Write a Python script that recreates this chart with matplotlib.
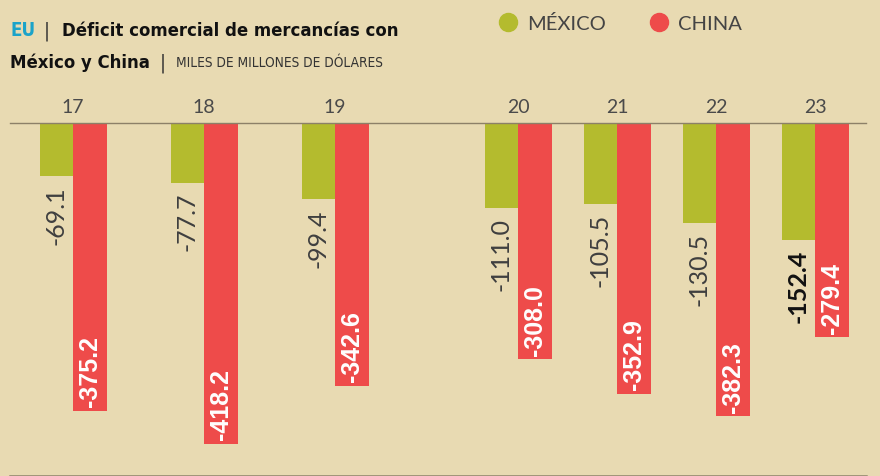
import numpy as np
import matplotlib.pyplot as plt
from matplotlib.lines import Line2D

# datos: déficit comercial de EU (miles de millones de dólares)
years = ["17", "18", "19", "20", "21", "22", "23"]
mexico = [-69.1, -77.7, -99.4, -111.0, -105.5, -130.5, -152.4]
china = [-375.2, -418.2, -342.6, -308.0, -352.9, -382.3, -279.4]

# posiciones de los grupos (px), el original deja un hueco tras 2019
group_x = np.array([73, 204, 335, 518, 617, 716, 815])
bar_w = 33.5

bg = "#E8DAB2"
green = "#B4BB2E"
red = "#EE4B4A"
line_col = "#8C8068"

fig = plt.figure(figsize=(8.8, 4.77), dpi=100, facecolor=bg)
ax = fig.add_axes([0, 0, 1, 1])
ax.set_facecolor(bg)
ax.set_xlim(0, 880)
# 0 en y=124 px, escala ~0.767 px por unidad
ax.set_ylim(-460.2, 161.7)
ax.axis("off")

ax.bar(group_x - bar_w / 2, mexico, bar_w, color=green, zorder=2)
ax.bar(group_x + bar_w / 2, china, bar_w, color=red, zorder=2)

# líneas de base
ax.plot([10, 866], [0, 0], color=line_col, lw=1.0, zorder=3)
ax.axhline(-460.0, xmin=10 / 880, xmax=866 / 880, color=line_col, lw=1.8)

# etiquetas de años
for x, yr in zip(group_x, years):
    ax.text(x, 11, yr, ha="center", va="bottom", fontsize=14,
            family="Lato", color="#4a4a4a")

# etiquetas de valores
for i, (x, m, c) in enumerate(zip(group_x, mexico, china)):
    last = i == len(years) - 1
    ax.text(x - bar_w / 2, m - 12, f"{m:.1f}", rotation=90, ha="center", va="top",
            fontsize=18, family="Lato",
            fontweight="bold" if last else "normal",
            color="#111111" if last else "#3f3f3f", zorder=4)
    ax.text(x + bar_w / 2, c + 6, f"{c:.1f}", rotation=90, ha="center", va="bottom",
            fontsize=18, family="Liberation Sans", fontweight="bold",
            color="white", zorder=4)

# título
def px(x, y):
    return x / 880, 1 - y / 477

cond = dict(family="DejaVu Sans", fontstretch="condensed")
fig.text(*px(10, 31), "EU", fontsize=13.5, fontweight="bold",
         color="#1BA3C9", va="center", **cond)
fig.text(*px(44, 31), "|", fontsize=14, color="#333333", va="center", **cond)
fig.text(*px(62, 31), "Déficit comercial de mercancías con", fontsize=13.2,
         fontweight="bold", color="#111111", va="center", **cond)
fig.text(*px(10, 63), "México y China", fontsize=13.2,
         fontweight="bold", color="#111111", va="center", **cond)
fig.text(*px(160, 63), "|", fontsize=14, color="#333333", va="center", **cond)
fig.text(*px(176, 63), "MILES DE MILLONES DE DÓLARES", fontsize=9.8,
         color="#333333", va="center", **cond)

# leyenda
handles = [Line2D([], [], ls="", marker="o", ms=13, color=green, label="MÉXICO"),
           Line2D([], [], ls="", marker="o", ms=13, color=red, label="CHINA")]
leg = fig.legend(handles=handles, loc="center left", bbox_to_anchor=px(478, 24),
                 ncol=2, frameon=False, handletextpad=0.35, columnspacing=2.0,
                 handlelength=1.2, prop={"family": "Lato", "size": 14.5})
for t in leg.get_texts():
    t.set_color("#444444")

fig.savefig("out.png", dpi=100, facecolor=bg)
